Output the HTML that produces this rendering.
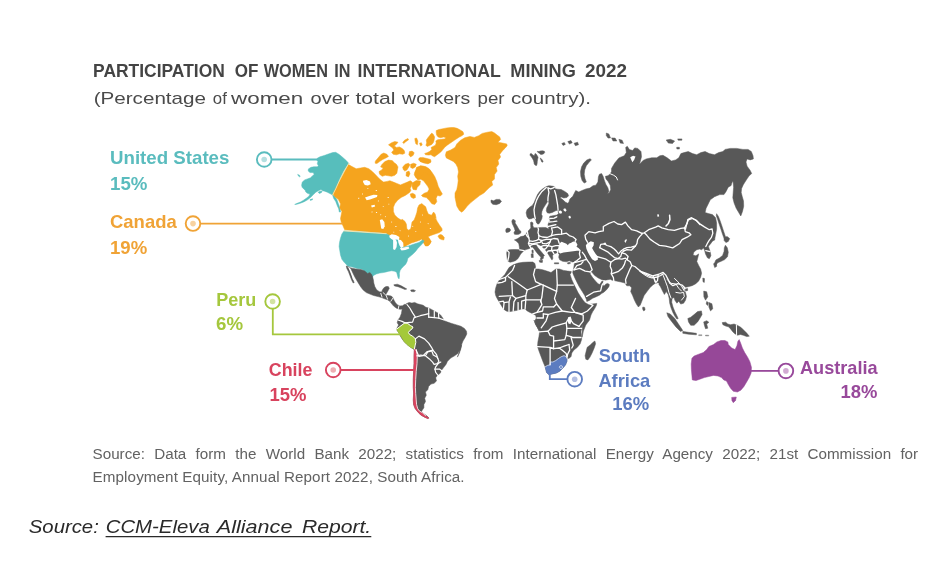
<!DOCTYPE html>
<html><head><meta charset="utf-8"><title>Participation of women in international mining 2022</title>
<style>
html,body{margin:0;padding:0;background:#fff;}
body{width:952px;height:571px;overflow:hidden;position:relative;font-family:"Liberation Sans",sans-serif;}
svg{position:absolute;left:0;top:0;display:block;filter:blur(0.45px)}
text{font-family:"Liberation Sans",sans-serif;}
.lbl{font-weight:700;font-size:17.8px;}
</style></head><body>
<svg width="952" height="571" viewBox="0 0 952 571">
<rect width="952" height="571" fill="#fff"/>
<g id="map" stroke-linejoin="round">
<path d="M348.8 163.4L346.2 160.5 342 156.8 338.9 154.2 335.7 152.3 332.6 152.6 328.4 154 324.2 155.5 320 156.8 317.3 158.2 316.8 160 317.9 161.6 317.3 163.7 318.4 165.8 317.3 166.8 313.7 166.8 311 167.3 308.4 168.9 308.2 171 310 172.6 313.1 172.6 314.2 174.2 312.1 176.3 310.5 177.8 307.4 178.9 304.7 179.9 302.3 182 301.6 185.2 302.1 187.3 303.7 188.9 305.3 190.4 305.8 192 307.9 193.6 310 194.1 308.9 196.2 306.3 198.3 303.2 200.4 300.5 202 296.6 203.6 294.7 204.4 296.8 204.3 301.1 202.9 304.2 201.7 307.9 199.6 311 197 313.7 194.3 315.8 192.2 318.4 190.7 321 189.6 322.6 190.7 324.7 191.2 327.3 192.2 329.9 193.6 332.6 195 335.7 188.9 339.9 179.4 344.1 171Z" fill="#57bebc" stroke="#57bebc" stroke-width="0.5"/>
<path d="M332.6 195L334.7 196.2 336.8 199.4 338.3 203.6 340.1 208.8 340.5 212 339.3 212 338.7 208.8 337.3 205.7 335.7 201.5 333.6 198.3Z" fill="#57bebc" stroke="#57bebc" stroke-width="0.5"/>
<path d="M297.7 174.4L299.5 175.2 300.2 176.5 299.4 176.8 298.1 175.6Z" fill="#57bebc" stroke="#57bebc" stroke-width="0.5"/>
<path d="M318.1 192.2L320 191.2 322.1 191.2 321.5 192.5 319.4 193.6Z" fill="#57bebc" stroke="#57bebc" stroke-width="0.5"/>
<path d="M310 199.6L312.6 198.8 312.4 199.8 310.3 200.4Z" fill="#57bebc" stroke="#57bebc" stroke-width="0.5"/>
<path d="M348.5 164.5L352 166.6 356.2 168.7 360.4 168 364.6 167.3 368.8 168.7 372.3 171.5 375.1 174.3 377.9 177.2 380.7 180 383.6 182.1 387.1 181.4 389.9 180.7 393.4 182.1 396.9 183.5 400.4 184.9 403.9 183.5 407.4 182.1 410.2 180.7 412.3 182.1 411.6 185.6 410.2 188.4 410.9 190.5 409.5 192.6 405.3 195.4 401.1 197.5 397.6 200.3 394.8 203.8 393.4 207.3 393.4 211.5 394.8 215 397.6 217.8 401.1 220.1 402.2 219.3 405 221.4 406.4 224.2 406.8 228.4 408.5 230.2 410.6 229.1 411.3 226.3 412 222.1 414.1 220 415.5 216.5 416.9 212.2 417.6 208 419 205 421.8 203.6 423.1 204.7 425.7 206.8 426.8 210.5 428.3 214.1 431.5 215.2 433.6 212 435.2 214.1 436.2 218.3 435.1 217.2 437.2 221.4 439.4 224.9 441.9 228.4 442.2 230.5 439.4 232.6 435.1 234 430.9 235.4 428.1 236.8 429.8 238.9 431.2 241.7 429.8 243.8 428.1 245.9 425.3 245.9 424.2 243.8 422.5 241.7 421.8 238.9 419.7 240.3 415.5 241.7 411.3 243.1 407.1 245.2 403.6 247.3 402.2 245.2 400.1 241.7 397.3 238.9 393.1 236.8 389.6 236.1 386.1 233.3 365 231.5 344.7 229.8 342.6 224.9 341.2 222.1 340.5 218.6 341.2 215 341.9 211.5 339.8 208 340.5 203.8 338.4 199.6 334.9 196.8 332.8 194Z" fill="#f5a41e" stroke="#f5a41e" stroke-width="0.5"/>
<path d="M437.9 236.1L440.1 234.4 442.2 235 444.3 237.5 443.8 240 441.5 239.6 439.4 238.6Z" fill="#f5a41e" stroke="#f5a41e" stroke-width="0.5"/>
<path d="M423.2 239.6L426.7 237.8 428.8 238.9 430.9 241.7 429.8 244.2 426.7 245.9 424.6 243.8Z" fill="#f5a41e" stroke="#f5a41e" stroke-width="0.5"/>
<path d="M410.2 194L412.7 193.3 415.2 194.7 415.5 197.5 413.4 198.5 411 197.1Z" fill="#f5a41e" stroke="#f5a41e" stroke-width="0.5"/>
<path d="M412.1 183.1L416.3 180.5 420.5 181 419.9 184.7 417.3 187.3 416.3 190 413.1 189.4 412.1 186.8Z" fill="#f5a41e" stroke="#f5a41e" stroke-width="0.5"/>
<path d="M416.5 167.3L420.7 165.9 425.6 166.6 429.1 168.7 431.9 172.2 434.7 176.5 436.8 181.4 438.2 186.3 440.3 190.5 442.4 194 440.3 196.1 437.5 195.4 436.1 198.2 436.8 201.7 434.7 204.5 431.9 203.8 429.1 200.3 426.3 197.5 422.8 196.8 421.4 195.4 424.2 193.3 427.7 191.9 429.1 189.1 427.7 186.3 425.6 183.5 423.5 180.7 420.7 179.3 417.9 180 415.8 177.2 415.1 172.9Z" fill="#f5a41e" stroke="#f5a41e" stroke-width="0.5"/>
<path d="M375.4 161.1L378 158 381.1 154.3 383.8 153 386.9 154.3 388.5 156.4 385.9 158 382.7 159.5 379.6 161.6 376.9 163.5 375.1 163.2Z" fill="#f5a41e" stroke="#f5a41e" stroke-width="0.5"/>
<path d="M381.7 164.8L384.8 161.6 388.5 160.1 392.2 160.6 394.3 162.7 396.4 164.3 398 166.9 397.4 170 396.9 173.2 394.8 175.3 391.6 176.3 388.5 175.8 385.3 175.3 382.2 176.3 379.6 174.2 379 171.6 381.7 170 383.2 167.9 380.6 166.9Z" fill="#f5a41e" stroke="#f5a41e" stroke-width="0.5"/>
<path d="M388.5 144.8L391.6 142.7 394.8 141.5 398 142.2 396.4 144.3 394.3 145.9 396.4 147.4 399.5 146.9 402.2 148.5 404.3 150.6 404.8 153.2 402.7 154.3 399.5 153.8 396.4 154.8 393.2 154.3 391.6 152.2 393.8 150.1 392.7 148 390.6 146.4Z" fill="#f5a41e" stroke="#f5a41e" stroke-width="0.5"/>
<path d="M402.7 142.2L404.8 140.1 407.9 138.5 408.6 139.8 405.8 141.7 403.7 143.6Z" fill="#f5a41e" stroke="#f5a41e" stroke-width="0.5"/>
<path d="M414.8 138.5L416.6 138 417.9 141.1 417.4 144.8 415.8 143.8 415.1 141.1Z" fill="#f5a41e" stroke="#f5a41e" stroke-width="0.5"/>
<path d="M419.5 143.2L421.4 142.7 422.2 145 420.6 146.1Z" fill="#f5a41e" stroke="#f5a41e" stroke-width="0.5"/>
<path d="M409.5 151.6L412.1 151.1 414.2 152.7 413.2 155.3 410.6 156.9 408.8 154.8Z" fill="#f5a41e" stroke="#f5a41e" stroke-width="0.5"/>
<path d="M419 158L422.7 157.4 426.9 158.5 430.5 159.5 431.1 161.6 428.4 163.2 424.8 162.7 421.1 161.6 418.7 160.1Z" fill="#f5a41e" stroke="#f5a41e" stroke-width="0.5"/>
<path d="M402.7 166.9L405.3 164.3 408.5 163.2 410 164.8 408.5 167.4 406.9 170 404.8 171.1 403.2 169.5Z" fill="#f5a41e" stroke="#f5a41e" stroke-width="0.5"/>
<path d="M410.6 164.3L413.7 163.2 416.3 164.3 415.3 166.9 412.7 168.5 410.6 167.4Z" fill="#f5a41e" stroke="#f5a41e" stroke-width="0.5"/>
<path d="M406.4 172.1L409 171.1 410 173.7 408.5 176.9 406 175.8Z" fill="#f5a41e" stroke="#f5a41e" stroke-width="0.5"/>
<path d="M414.8 172.1L417.4 167.9 420.6 165.8 423.7 166.4 426.9 168.5 430 170 431.1 173.2 429 175.3 426.9 173.2 424.8 172.1 422.7 174.2 420.6 176.3 418.5 178.5 415.8 177.4 414.2 174.8Z" fill="#f5a41e" stroke="#f5a41e" stroke-width="0.5"/>
<path d="M436.2 130.6L438.9 129.5 442.9 128.7 446.8 127.9 450.7 127.5 453.9 127.5 457.1 128.3 460.2 129.9 463 131.8 463.8 134.2 461.8 135.8 459.4 137 457.1 138.5 454.7 140.1 452.3 141.7 450 143.3 447.2 145.2 444.8 147.2 442.9 149.6 441.3 151.5 438.9 153.5 436.2 155.5 434.6 156.7 432.6 155.9 431 154.7 428.7 155.1 425.5 154.7 424.7 153.5 427.1 152.7 429.5 151.5 431.8 149.6 431 147.6 433 146.4 435.4 145.2 436.2 142.9 435.8 140.9 437.7 139.7 441.3 139.3 444.4 138.9 446 137.7 443.7 137 440.5 137.7 438.1 137 436.6 135 436.2 132.6Z" fill="#f5a41e" stroke="#f5a41e" stroke-width="0.5"/>
<path d="M431.8 133L433.4 134.6 434.6 137 434.2 139.7 433.4 142.5 431.8 144.4 429.5 145.6 427.1 146.4 425.9 145.2 426.7 142.9 426.3 140.1 427.9 137.7 429.5 135.8 430.6 134.2Z" fill="#f5a41e" stroke="#f5a41e" stroke-width="0.5"/>
<path d="M420 157.8L423.2 158.6 427.1 159.4 430.2 160.6 430.6 162.6 427.9 163.8 423.9 163 420 161.4Z" fill="#f5a41e" stroke="#f5a41e" stroke-width="0.5"/>
<path d="M446.3 151.8L450.7 150 455 147.4 456.8 143.9 460.3 140.4 464.7 137.8 469.9 136.4 474.3 137.4 478.7 135.7 482.2 133.4 487.4 132.2 491.8 131.6 494.5 132.9 497.1 135.1 499.7 136.9 500.6 139.5 498 142.2 502.3 143 506.7 143.9 507.2 145.7 505 148.3 502.3 150.9 499.7 154.4 500.6 157 498 160.6 498.8 164.1 496.2 167.6 497.1 171.1 494.5 174.6 494.5 178.9 491.8 181.6 492.7 185.1 489.2 187.7 486.6 190.3 483.9 193 479.6 195.6 475.2 199.1 470.8 202.6 467.3 206.1 463.8 210.5 461.7 212.2 459.4 210.5 456.8 206.1 455.9 201.7 455 197.3 455 193 456.8 189.5 457.7 185.1 458.2 180.7 457.7 176.3 458.5 171.9 457.7 167.6 455.9 164.1 453.3 161.4 449.8 159.7 446.3 157.9 445.4 155.3Z" fill="#f5a41e" stroke="#f5a41e" stroke-width="0.5"/>
<path d="M491 200L493.6 200.8 496.2 199.4 499.7 199.4 501.5 201.2 499.7 203.5 496.2 204.7 492.7 204.3 491 202.2Z" fill="#585858" stroke="#585858" stroke-width="0.5"/>
<path d="M344 230.9L365 232.3 386.1 233.7 390.3 235.7 394.5 236.5 398.7 238.9 400.8 242.4 402.2 245.9 402.9 247.3 406.4 246.6 410.6 245.2 414.8 243.8 419 242.4 421.1 241 422.8 239.9 424.2 241 422.5 243.6 419.7 246.6 417.6 248.7 415.5 251.5 412.7 254.3 409.9 256.5 407.8 258.6 407.1 261.4 405.7 264.2 403.6 266.3 401.5 268.4 400.1 270.5 399.4 273.3 399.5 276.1 399 278.9 398 277.5 397.3 274.7 396.6 272.2 394.5 271.2 391.7 270.8 388.9 271.2 386.1 271.9 383.3 272.6 379.8 273 376.3 274 373.5 275.4 372.1 277.8 371.4 276.1 370 274.7 368.6 273.3 367.2 274 365.7 272.6 363.6 270.5 361.5 269.1 357.3 268.4 352.4 267 347.5 266 346.1 264.2 344 262.1 341.9 259.3 340.5 255 339.8 250.8 339.1 246.6 339.5 242.4 340.5 238.2 341.9 234Z" fill="#57bebc" stroke="#57bebc" stroke-width="0.5"/>
<path d="M389.2 235.7L391.7 234.3 395.9 234.9 399.4 237.1 399 239.9 395.9 239.6 393.8 240.5 391.4 239.1 389.6 237.5Z" fill="#ffffff"/>
<path d="M393.1 239.9L395.9 239.6 397 242.4 396.6 246.9 395 250 393.1 249.2 393.1 244.5Z" fill="#ffffff"/>
<path d="M397.9 239.6L400.9 239.9 403.2 242.7 403.5 246.6 401.2 248.3 399.5 245.5 398.4 242.4Z" fill="#ffffff"/>
<path d="M399.8 248.3L403.6 247.5 408.5 246.6 409.3 248.6 405.4 250 401.5 250.6Z" fill="#ffffff"/>
<path d="M362.9 180.7L366.5 180 370 181.4 370.7 184.2 367.9 185.6 364.8 184.9 363.4 182.8Z" fill="#ffffff"/>
<path d="M365 197.5L369.3 196.1 373.5 194.7 377.4 195.1 377 197.1 373.5 198.2 370 199.6 366.7 200.3Z" fill="#ffffff"/>
<path d="M371.1 205.5L374.6 204.7 375.1 206.6 371.8 207.5Z" fill="#ffffff"/>
<path d="M379.8 220L382.2 219.3 384.4 222.1 384.7 226.3 383.3 229.1 381.2 228.4 380.5 224.2Z" fill="#ffffff"/>
<path d="M346.3 266.3L350.5 267.9 355.8 268.9 361 269.5 364.7 271 367.5 273.4 369.9 272.6 371.5 274.2 372.6 276.8 373.4 280 373.8 283.1 374.9 286.8 376.8 289.9 379.4 291.7 381.6 292.1 382.4 289.9 383.9 287.8 386 286.5 388.3 286.5 389.3 288.2 387.9 291 386.4 293.6 385.4 295.3 388.1 295.5 391.3 296 392.8 297.6 394 300.2 395.5 302.8 397.5 304.9 399.9 305.9 402.5 305.7 404.6 304.3 405.7 306.7 403 308.9 399.9 309.3 396.5 308.2 393.6 306.1 391.7 303.8 389.8 301.3 387.3 299.7 384.6 298.8 381.5 297.6 378.9 296.8 373.6 295.5 369.9 294.1 366.3 292.6 363.1 289.9 361 287.3 358.9 283.9 356.8 280.5 354.7 276.8 352.6 272.6 351 268.9 350 267.4Z" fill="#585858" stroke="#585858" stroke-width="0.5"/>
<path d="M346.3 266.3L348.4 267.9 350 271.6 351.6 275.8 353.1 280 354.2 282.6 353.1 282.9 351.6 280 350 275.8 348.4 271.6 346.8 268.4Z" fill="#585858" stroke="#585858" stroke-width="0.5"/>
<path d="M393.8 284.8L397.3 284.2 400.8 285.6 404.3 287.6 406.8 289 405 289.5 401.5 288.1 398 286.7 394.5 285.9Z" fill="#585858" stroke="#585858" stroke-width="0.5"/>
<path d="M410.6 290.1L413.4 289.7 415.5 290.7 414.1 291.8 411.3 291.5Z" fill="#585858" stroke="#585858" stroke-width="0.5"/>
<path d="M358 198.2L358.5 197.7 359.2 197.7 359.4 198.3 358.9 198.8 358.3 198.7Z" fill="#ffffff"/>
<path d="M362 194L362.3 193.6 362.9 193.6 363.1 194.1 362.7 194.5 362.2 194.4Z" fill="#ffffff"/>
<path d="M371.5 212L371.8 211.5 372.4 211.6 372.6 212 372.2 212.4 371.7 212.4Z" fill="#ffffff"/>
<path d="M375.8 212.5L376.3 212 377 212 377.2 212.6 376.8 213.1 376.1 213Z" fill="#ffffff"/>
<path d="M380.2 214.8L380.5 214.3 381.1 214.4 381.3 214.8 380.9 215.2 380.4 215.2Z" fill="#ffffff"/>
<path d="M387.5 197.5L387.9 197 388.6 197 388.9 197.6 388.4 198.1 387.8 198Z" fill="#ffffff"/>
<path d="M388.3 204.1L388.7 203.7 389.2 203.7 389.4 204.2 389 204.6 388.5 204.5Z" fill="#ffffff"/>
<path d="M391.1 222.1L391.5 221.6 392 221.7 392.2 222.1 391.9 222.5 391.3 222.5Z" fill="#ffffff"/>
<path d="M395.2 226.5L395.6 226 396.3 226.1 396.6 226.6 396.1 227.1 395.5 227Z" fill="#ffffff"/>
<path d="M399.5 230.8L399.9 230.3 400.4 230.4 400.7 230.8 400.3 231.2 399.8 231.1Z" fill="#ffffff"/>
<path d="M415.2 231.3L415.6 230.9 416.1 230.9 416.4 231.4 416 231.8 415.5 231.7Z" fill="#ffffff"/>
<path d="M419.9 222.1L420.2 221.6 420.8 221.7 421 222.1 420.6 222.5 420.1 222.5Z" fill="#ffffff"/>
<path d="M427.6 223.7L427.9 223.3 428.5 223.3 428.7 223.8 428.3 224.2 427.8 224.1Z" fill="#ffffff"/>
<path d="M429.7 228.5L430.1 227.9 430.8 228 431.1 228.6 430.6 229.1 430 229Z" fill="#ffffff"/>
<path d="M382.7 206.6L383 206.2 383.6 206.2 383.8 206.7 383.4 207.1 382.9 207Z" fill="#ffffff"/>
<path d="M377.8 201L378.1 200.6 378.7 200.6 378.9 201.1 378.5 201.5 378 201.4Z" fill="#ffffff"/>
<path d="M367.3 188.4L367.6 188 368.2 188 368.4 188.5 368 188.9 367.5 188.8Z" fill="#ffffff"/>
<path d="M375.6 190.5L376 190 376.7 190 377 190.6 376.5 191.1 375.8 191Z" fill="#ffffff"/>
<path d="M384.8 216.7L385.2 216.3 385.7 216.3 385.9 216.8 385.5 217.2 385 217.1Z" fill="#ffffff"/>
<path d="M393.2 232.2L393.6 231.7 394.1 231.8 394.3 232.2 394 232.6 393.5 232.5Z" fill="#ffffff"/>
<path d="M407.9 236.1L408.3 235.6 408.8 235.7 409.1 236.1 408.7 236.5 408.2 236.5Z" fill="#ffffff"/>
<path d="M412.2 226.3L412.5 225.8 413.1 225.9 413.3 226.3 412.9 226.7 412.4 226.7Z" fill="#ffffff"/>
<path d="M422 215L422.3 214.6 422.9 214.7 423.1 215.1 422.7 215.5 422.2 215.4Z" fill="#ffffff"/>
<path d="M403.5 305.9L406.3 303.8 409.1 302.4 411.9 303.1 414.7 302.4 417.5 303.8 420.3 304.5 423.1 305.2 425.9 307.3 428.7 308 431.5 309.4 435 311.5 437.8 312.9 440.6 315 442.7 317.9 444.1 320.7 447.6 322.1 451.8 323.5 456.7 324.9 460.9 326.3 464.4 328.4 466.5 331.2 466.8 334 465.1 337.5 463 341 461.6 344.5 460.9 348.7 459.5 352.9 457.4 357.1 461.7 344.7 460.1 349.5 457.8 353.4 454.6 355.8 450.7 358.1 447.5 361.3 446 364.4 443.6 367.6 441.2 370.7 440.4 373.1 437.3 375.5 435.7 377.8 436.5 381 434.1 383.3 431 384.1 428.6 386.5 427.8 389.7 425.5 392 426.3 395.2 424.7 398.3 425.5 401.5 423.9 404.6 423.9 407.8 422.3 410.1 421.5 411.7 423.9 413.8 427 416 428.9 417.9 427.8 418.5 424.7 417.2 420.7 414.9 417.6 411.7 415.2 408.6 413.6 404.6 413.3 399.9 413.6 393.6 413.3 387.3 413.3 379.4 413.6 371.5 414 363.6 414 355.8 414.4 348.7 414 349.4 410.5 347.3 407 344.5 404.2 341.7 402.1 338.9 400 335.4 398.6 332.6 396.7 329.8 397.2 327.7 398.6 324.9 397.2 322.8 397.9 320 400 317.2 401.4 313.6 402.1 309.4Z" fill="#585858" stroke="#585858" stroke-width="0.5"/>
<path d="M396.7 329.1L399.3 327 402.1 324.9 404.9 322.8 407.7 323.5 410.5 325.6 413 327 411.9 329.1 409.8 330.5 408.4 332.6 409.8 334.7 412.6 336.1 415.4 338.9 415.8 342.4 415 345.9 414.4 349 410.5 347.3 407 344.5 404.2 341.7 402.1 338.2 400 334.7 398.1 331.9Z" fill="#a4c93a" stroke="#a4c93a" stroke-width="0.5"/>
<path d="M414.4 348.7L416 349.5 417.1 355.8 416.8 363.6 416 371.5 415.5 379.4 415.2 387.3 415.5 393.6 416 399.9 416.5 404.6 417.6 408.6 419.2 410.9 422.3 412.8 425.5 415.7 427.8 417.2 428.8 418.3 427.5 418.5 424.7 417.2 420.7 414.9 417.6 411.7 415.2 408.6 413.6 404.6 413.3 399.9 413.6 393.6 413.3 387.3 413.3 379.4 413.6 371.5 414 363.6 414 355.8Z" fill="#d8435e" stroke="#d8435e" stroke-width="0.5"/>
<path d="M546.3 186.6L548.9 185.7 552 186.1 554.6 186.6 555 188.8 557.7 189.2 561.2 189.6 564.7 191.4 567.7 193.6 568.6 195.8 566.9 197.5 563.8 198 561.2 197.1 560.1 198 561.6 198.8 563.8 200.6 565.5 202.3 567.7 203.2 569 201.9 569.5 199.7 570.8 198 572.6 196.6 575.7 190.5 578.8 192 582 190.5 585.9 188.9 589.9 188.1 593 185.7 595.8 185.2 597.9 182 598.4 176.8 599.4 174.2 601.6 173.6 603.1 176.3 604.2 179.9 605.8 184.2 607.9 187.8 608.9 191.5 607.5 193.8 609.4 192.6 610.7 189.4 610.2 185.2 608.1 181.5 606 178.9 605.4 176.3 607.9 175.7 610 174.2 611.5 171.5 611.5 168.4 614.7 163.1 618.9 157.9 624.2 155.8 626.3 152.6 625.7 147.4 627.3 146.3 629.4 149.5 632.6 150.5 634.7 147.9 637.8 148.4 641 151.6 641.5 156.8 640.4 161 639.4 164.2 643.1 160.5 646.2 158.9 651.5 157.8 656.7 157.8 659.9 155.7 663 155.3 667.2 157.8 671.4 161 675.6 159.9 678.8 157.8 680.9 153.6 684.1 152.6 688.3 151.5 692.5 153.6 696.7 154.7 700.9 152.6 705.1 151.5 709.3 153.6 714.5 154.7 718.7 152.6 722.9 151.5 725 149.4 730.3 148.4 736.6 148.4 742.9 149.4 748.1 149.4 751.3 151.5 753 155.7 753.4 158.9 750.2 159.9 747.1 158.9 746 162 747.1 166.2 750.2 170.4 751.7 173.6 749.2 175.7 747.1 178.8 745 182 743.3 184.7 741.6 188.5 741.2 192.5 742.3 196.7 743.5 200.9 743.7 206.2 742.5 211.4 740.8 216 738.7 212.5 736.2 208.3 734.1 203 732.8 197.7 733.2 192.5 733.6 187.2 733 180.9 731.8 183 731.1 185.6 728.2 187.2 726.1 191.4 724 194.6 719.8 194.6 714.5 196.7 710.3 199.8 708.2 204.1 706.1 208.3 705.1 212.5 708.2 213.5 712.4 214.6 715.6 217.7 716.6 223 716.6 229.3 715.6 234.5 714.5 240 715.1 239.5 712.2 241.4 710.3 244.3 708.4 246.2 708.9 248.1 710.3 252 710.9 255.8 709.3 258.7 707.4 257.8 705.5 253.9 704.5 250.1 703.5 248.1 701.6 249.7 699.7 249.1 696.8 249.7 693.9 252 693 254.9 695.8 255.8 698.7 253.9 697.8 257.8 696.8 261.6 698.7 265.5 700.7 269.3 701.6 273.2 700.7 277 698.7 280.9 695.8 283.8 692 285.7 688.1 286.7 684.3 287.6 681.4 286.7 681.3 286.2 683.6 288.7 685.5 292.6 686.5 296.4 685.5 300.3 683.6 303.2 680.7 304.1 678.8 301.2 676.9 303.2 674.9 300.3 674 297.4 672.1 298.4 671.7 302.2 673 307 674.9 311.8 676.9 315.7 678.2 318.6 676.9 319 674.9 316.3 673 312.8 671.1 308 669.7 303.2 669.2 298.4 668.2 294.5 666.3 291.6 664.4 294.5 662.4 290.7 660.5 286.8 658.6 283.9 655.7 283 652.8 284.9 649.9 287.8 647 291.6 644.1 295.5 642.2 300.3 640.3 305.1 638.4 307 636.4 304.1 634.5 300.3 632.6 295.5 630.7 291.6 631.6 287.8 629.7 285.8 626.8 285.8 624.9 283 621 282 616.2 281 611.4 280.1 610.5 279.2 607.8 279.7 605.2 280.2 602 279.7 598.4 278.1 594.7 275.5 591.5 271.8 590 272.3 590.5 274.4 592.6 277.6 595.2 280.8 597.8 283.4 599.4 284.6 600.8 283 601.8 281.3 603.1 281.3 603.3 283.2 602.6 285.5 604.2 285.7 605.9 284 607.8 283.4 609.4 284.6 608.9 286.7 606.8 289.4 604.2 292 601.5 293.6 599.4 295.2 596.3 296.7 592.6 298.3 589.4 300.4 586.8 301.5 586.3 299.2 584.7 295.5 582.1 291.3 579.4 287.1 577.3 282.9 575.2 278.7 573.1 273.9 572.7 272.2 573.6 268.8 574.1 265.4 574.6 262.1 572.2 262.1 569.3 260.8 566.4 261.8 562.6 261.3 559.7 259.8 558.7 257.3 559.2 254.4 557.8 252.4 556.3 253.1 553.9 253.9 552.5 255.8 552.9 258.2 552 260.1 550.3 257.5 548.8 255 547 252.1 545.1 249.6 542.6 247.2 540 245.3 537.1 243.9 536.1 244.9 538 247.8 540.4 250.7 542.8 253.6 544.5 255.5 543.3 256.8 543.5 258.2 542.4 258.9 541.4 260.1 540.2 259.5 540.9 257.3 538.5 254.7 536.1 251.8 534.2 248.9 532.3 246.9 530.8 247.7 528.9 248.7 526 249.6 524.1 250.6 522.6 252.1 520.7 254 519.3 256.4 517.8 258.8 515.4 260.7 512.5 261.7 510.1 262.2 507.7 261.2 507.2 258.7 506.9 255.8 506.7 252.9 507.2 250.5 509.1 249.8 512.5 249.5 516.4 249.5 519.7 249.8 519.3 246.7 518.8 243.8 516.8 241.4 514.4 239.9 517.8 238.5 520.7 236.6 523.6 236.1 526 234.1 527.4 231.7 529.4 229.8 530.8 227.9 530.7 225.5 530.5 222.5 531.8 221.9 533 222.9 532.8 225.7 533.9 227.8 537.8 227.8 541.8 227.4 545.7 227.5 548.9 229 548.5 227.3 548 224.7 548.9 222 550.2 220.3 549.3 218.5 549.8 216.3 551.5 215.9 554.2 215.5 556.8 215 558.5 213.7 558.1 210.7 557.2 210.2 555 211.1 552.4 212.4 549.3 213.3 547.2 212.8 546.3 210.7 546.7 208 548 205.4 548.9 203.2 548.5 201 547.9 201 546.3 203.6 544.5 206.3 542.9 208.9 541.9 211.5 541.5 214.6 542.3 215.9 541.9 218.5 540.6 221.2 539.3 223.4 538 224.2 536.6 222.9 535.8 220.3 535.1 218.5 533.1 217.7 531.4 218.7 528.8 219 527 216.8 526.1 212.8 527 209.8 529.2 207.6 532.3 205.4 534 202.8 535.8 198.4 537.5 194.5 539.7 191.4 542.8 188.8Z" fill="#585858" stroke="#585858" stroke-width="0.5"/>
<path d="M630.2 157.3L633.1 155.8 635.5 156.6 634.1 160 632.4 162.3 631.3 160Z" fill="#ffffff"/>
<path d="M558.5 211.1L560.7 210.5 562.2 212 561.2 213.7 559.2 213.3Z" fill="#ffffff"/>
<path d="M563.4 208.9L565.1 208.2 566.6 210.2 565.5 211.7 563.8 210.8Z" fill="#ffffff"/>
<path d="M568.6 216.1L570.1 215.7 571 217.5 569.9 218.7 568.7 217.8Z" fill="#ffffff"/>
<path d="M558.7 245.7L559.7 243.3 561.6 241.8 564 242.8 566.4 243.8 567.9 245.2 568.8 243.8 571.2 242.8 573.2 241.4 576.1 242.3 577.5 244.7 576.5 246.7 578.5 248.1 580 249.5 580.4 250.8 577 250.8 575.1 251 571.2 251.5 567.4 252 563.5 252.4 560.2 253.4 558.5 252 558.2 249.1Z" fill="#ffffff"/>
<path d="M587.1 243.4L590.8 241.3 593.9 242.3 593.6 245.5 592.1 248.1 593.6 250.8 595.7 253.9 597.8 256.5 597.8 259.7 595 261 592.1 259.3 590 256.1 587.9 252.3 586.4 248.7 585.8 245.5Z" fill="#ffffff"/>
<path d="M603.7 242.9L605.4 242.4 606.2 243.8 605.1 244.9 603.8 244.3Z" fill="#ffffff"/>
<path d="M512.3 219.8L514 219.5 515.4 220.9 515.1 223 516.5 225.1 517.9 227.5 519.3 230 521 231.4 520.7 233.1 518.9 234.2 516.5 234.5 514.4 234.2 514 232.4 515.1 230.7 514.4 228.2 513.3 225.8 512.3 223.7 511.8 221.6Z" fill="#585858" stroke="#585858" stroke-width="0.5"/>
<path d="M506 228.9L507.7 228.1 509.8 228.6 510.6 230 509.8 231.4 508.1 232.3 506.3 232.5 505.7 231Z" fill="#585858" stroke="#585858" stroke-width="0.5"/>
<path d="M530 153.9L531.3 153.4 532.9 155 534.2 155.8 535.2 153.4 536.3 154.2 537.3 155.8 538.1 157.3 537.6 159.4 537.3 161.6 537.1 163.7 536.6 165.5 535.2 165.2 534.2 163.9 533.9 162.1 533.4 160.2 532.4 158.4 531.3 156.8 530.2 155.5Z" fill="#585858" stroke="#585858" stroke-width="0.5"/>
<path d="M537.3 151.3L538.9 151.6 540.5 150.9 542.6 150.8 544.4 151.3 544.7 152.6 543.7 153.8 541.8 154.5 540.2 154.2 539.2 153.1 537.9 152.4Z" fill="#585858" stroke="#585858" stroke-width="0.5"/>
<path d="M540.2 158.1L541 158.4 542.1 159.7 543.1 161.3 542.6 162.3 541.6 161.8 541 160.2Z" fill="#585858" stroke="#585858" stroke-width="0.5"/>
<path d="M590 158.7L591.4 159.8 588.9 162.6 586.3 165.8 584.7 170 584.2 174.2 585 178.4 586.3 182 584.2 183.1 582.1 180.5 580.8 176.3 580.5 171.5 581.6 166.8 583.7 163.1 586.8 160Z" fill="#585858" stroke="#585858" stroke-width="0.5"/>
<path d="M561.8 143.5L564.3 142.5 565.3 144.4 563.1 145.4Z" fill="#585858" stroke="#585858" stroke-width="0.5"/>
<path d="M567.8 141.6L571 140.6 572.2 142.8 569.4 144.1Z" fill="#585858" stroke="#585858" stroke-width="0.5"/>
<path d="M574.1 143.2L577.6 142.2 578.5 144.7 575.4 145.7Z" fill="#585858" stroke="#585858" stroke-width="0.5"/>
<path d="M606.3 133L608.8 133.9 610.5 137.9 608 138.1 606.3 135.5Z" fill="#585858" stroke="#585858" stroke-width="0.5"/>
<path d="M611.6 137.9L615.1 138.1 616.8 141 613 141Z" fill="#585858" stroke="#585858" stroke-width="0.5"/>
<path d="M618.9 139.3L622.1 140.2 623.5 143.5 620.2 143.1Z" fill="#585858" stroke="#585858" stroke-width="0.5"/>
<path d="M666.2 140L670.4 139.3 674.6 141 672.5 143.5 668.3 143.1Z" fill="#585858" stroke="#585858" stroke-width="0.5"/>
<path d="M677.7 138.9L681.9 138.9 681.9 140.2 678.2 140.2Z" fill="#585858" stroke="#585858" stroke-width="0.5"/>
<path d="M676.7 147.3L679.4 147.3 679.4 149 676.9 149Z" fill="#585858" stroke="#585858" stroke-width="0.5"/>
<path d="M716.6 213.7L718.4 216.4 720.1 220.7 721.9 226 723.6 231.2 725.4 236.5 726.2 240 724.5 239.6 722.7 234.7 721 229.5 719.2 224.2 717.5 219 716.3 215.8Z" fill="#585858" stroke="#585858" stroke-width="0.5"/>
<path d="M724.5 237.3L727.1 236.5 729.7 238.6 728.3 241.4 725.9 242.6 724 240.3Z" fill="#585858" stroke="#585858" stroke-width="0.5"/>
<path d="M725.4 245.2L727.3 247.8 728.3 252.2 727.5 256.8 724.7 259.6 721.2 261.3 717.7 262.7 715.6 265.7 714.2 263.8 715.9 259.9 719.4 258 722.6 255.4 724.1 251.3 724.3 247.8Z" fill="#585858" stroke="#585858" stroke-width="0.5"/>
<path d="M713.6 263.8L716.1 263.2 716.8 266.2 714.7 267.6Z" fill="#585858" stroke="#585858" stroke-width="0.5"/>
<path d="M702.8 278L704.5 278.6 704.3 282.4 703 281.8Z" fill="#585858" stroke="#585858" stroke-width="0.5"/>
<path d="M685.3 289L687.6 288.6 687.6 290.5 685.6 290.9Z" fill="#585858" stroke="#585858" stroke-width="0.5"/>
<path d="M642.8 307L644.7 307.4 645.1 309.9 643.6 310.9 642.6 309Z" fill="#585858" stroke="#585858" stroke-width="0.5"/>
<path d="M666.8 312.8L670.2 313.9 674.8 318.5 679.3 325.3 682.8 330.5 680.5 331.4 675.9 326.9 671.4 321.2 668 316.6Z" fill="#585858" stroke="#585858" stroke-width="0.5"/>
<path d="M697.6 311.6L701.4 310.9 702.1 314.6 699.8 318.5 697.6 321.9 694.1 325.3 690.7 325.3 688.5 321.9 687.8 318.5 690.7 317.3 694.1 314.6Z" fill="#585858" stroke="#585858" stroke-width="0.5"/>
<path d="M682.8 331.4L688.5 332.3 696.4 333.3 696.4 334.8 688.5 334.2 682.8 333.3Z" fill="#585858" stroke="#585858" stroke-width="0.5"/>
<path d="M703.7 321.9L706.7 320.7 708.9 322.3 706.7 324.1 707.8 328.2 705.5 328.7 704.4 325.3Z" fill="#585858" stroke="#585858" stroke-width="0.5"/>
<path d="M698.7 334.8L701.9 334.8 701.9 335.6 698.7 335.6Z" fill="#8a8a8a" stroke="#8a8a8a" stroke-width="0.5"/>
<path d="M705.5 335.1L708.7 335.2 708.7 336 705.5 335.9Z" fill="#8a8a8a" stroke="#8a8a8a" stroke-width="0.5"/>
<path d="M722.2 322.6L725.7 322.2 727.8 324 730.6 324.7 734.1 324 737.6 325.4 741.1 327.5 743.9 330.3 746.7 333.1 749.3 336.2 746.7 336.6 743.2 335.2 740.4 334.5 737.6 335.2 734.8 333.8 732.7 331.7 730.6 328.9 728.5 326.8 725.7 326.1 722.9 324.7Z" fill="#585858" stroke="#585858" stroke-width="0.5"/>
<path d="M703.7 291.1L706.7 291.8 707.8 296.8 705.5 300.2 703.9 296.8Z" fill="#585858" stroke="#585858" stroke-width="0.5"/>
<path d="M708.9 302.5L711.9 303.7 712.8 308.7 710.5 310.9 708.9 307.1Z" fill="#585858" stroke="#585858" stroke-width="0.5"/>
<path d="M706.7 301.4L708.3 302.5 707.8 305.5 706.2 304.1Z" fill="#585858" stroke="#585858" stroke-width="0.5"/>
<path d="M594.9 341L595.6 343.8 594.2 348 592.1 352.9 590 357.1 587.9 359.9 585.8 359.2 585.1 355.7 586.1 351.5 587.2 347.3 590 345.2 592.8 342.4Z" fill="#585858" stroke="#585858" stroke-width="0.5"/>
<path d="M539.1 260.6L542.6 260.3 542.3 262.5 539.7 262.2Z" fill="#585858" stroke="#585858" stroke-width="0.5"/>
<path d="M531.2 253.9L533.1 253.5 533.3 257.5 531.4 257.5Z" fill="#585858" stroke="#585858" stroke-width="0.5"/>
<path d="M531.9 250.2L533.1 249.9 533.3 252.8 532 252.8Z" fill="#585858" stroke="#585858" stroke-width="0.5"/>
<path d="M554.4 262.8L558.7 262.8 558.7 263.8 554.4 263.8Z" fill="#585858" stroke="#585858" stroke-width="0.5"/>
<path d="M567.5 262.8L570.2 262.2 570.3 263.5 567.8 264Z" fill="#585858" stroke="#585858" stroke-width="0.5"/>
<path d="M509 267.6L513.2 264.8 518.1 263.1 523 262.3 528.6 262 532.8 262 534.9 263.4 535.6 266.9 534.9 269 538.4 269 542.6 269.7 546.8 271.1 551 272.5 553.8 270.4 555.9 269 559.4 269 563.6 270.4 567.8 271.1 571.3 271.5 571 272.9 570 274.4 571.6 279.2 573.7 283.9 575.8 288.1 577.9 292.3 580.5 296.5 583.1 300.2 585.2 302.8 588.4 304.4 592.6 303.9 596.8 303.4 596.3 305.5 594.7 308.6 592.6 311.8 591 315 589.5 320.1 585.8 325 583.4 331.1 582.1 337.2 582.3 324.2 581.6 328.4 580.9 331.9 581.6 335.4 581.6 339.6 580.2 343.8 577.4 347.3 573.9 350.1 571.8 352.9 571.1 356.4 569 358.5 566.9 357.8 566.9 361.3 565.5 364.8 562.7 368.3 559.9 371.1 556.4 372.9 552.2 373.9 548.7 374.6 546.6 372.5 545.2 366.9 543.1 362 541 356.4 538.9 350.8 537.5 346.6 537.9 341.7 538.9 336.8 539.6 331.9 537.5 327.7 535.4 324.2 534 320 541.2 335 539.8 331.3 537.7 327.8 535.6 324.3 534.9 320.8 536.3 318 535.6 315.2 532.8 313.8 530 312.4 527.2 311 525.1 308.9 521.6 308.9 517.4 310.3 513.2 311 509 311.7 506.2 311 503.4 308.9 501.3 305.4 499.2 301.9 497.1 298.4 495.7 295.6 495 292.1 495.7 287.9 497.1 283.7 499.2 280.2 502 277.4 504.8 274.6 506.9 271.1Z" fill="#585858" stroke="#585858" stroke-width="0.5"/>
<path d="M545.2 366.9L547.3 365.5 550.1 364.8 550.5 362 552.9 362 555.7 360.6 558.5 358.5 561.3 356.7 564.1 355.7 566.2 356.7 566.9 359.2 566.9 361.3 565.5 364.8 562.7 368.3 559.9 371.1 556.4 372.9 552.2 373.9 548.7 374.6 546.6 372.5Z" fill="#5c7cc0" stroke="#5c7cc0" stroke-width="0.5"/>
<path d="M691.9 358.3L694.1 356 698.7 354.2 703.3 352.6 706.7 349.6 708.9 346.5 713.5 344.6 716.9 341.9 721 340.5 724.9 340.5 727.8 341.9 728.3 344.6 731.7 348 735.1 349.6 736.9 345.8 737.9 341.2 739.2 339.6 740.8 343.5 742.4 348 744.7 352.6 747.6 357.2 749.9 361.7 751.5 367.4 751.1 373.1 749.2 377.6 746.5 382.2 743.8 386.7 740.8 390.2 737.4 392 733.3 391.3 730.6 388.3 728.3 384.5 726.5 381.1 723.7 379.9 721.5 377.6 718 376 713.5 375.4 708.9 376.5 704.4 377.6 699.8 379.2 696 380.6 692.3 379.9 691.9 375.4 691.4 369.7 691.2 364Z" fill="#964898" stroke="#964898" stroke-width="0.5"/>
<path d="M731.7 397.4L736.3 397 735.6 400.4 733.3 402.7 731.9 400.4Z" fill="#964898" stroke="#964898" stroke-width="0.5"/>
<path d="M657.1 214.5L658.7 214.2 659.2 216.2 657.7 216.9Z" fill="#ffffff"/>
<path d="M624.4 241L626.1 239.1 626.9 240.1 625.4 242.9Z" fill="#ffffff"/>
<path d="M568.1 317.3L570.6 316.6 571.8 320.1 570.4 324.3 568.4 323.6 567.5 320.1Z" fill="#ffffff"/>
<path d="M559.8 366.1L561.2 365.5 562.4 366.2 562.6 367.8 561.4 368.7 560 368.3 559.3 367.3Z" fill="#e8ecf7" stroke="#e8ecf7" stroke-width="0.5"/>
<path d="M560.3 366.6L561.2 366.2 561.9 366.7 561.9 367.6 561.2 368.1 560.4 367.8 560 367.2Z" fill="#5c7cc0" stroke="#5c7cc0" stroke-width="0.5"/>
<path d="M344 230.9L365 232.3 386.1 233.7" fill="none" stroke="#f7e7b0" stroke-width="0.9" stroke-linecap="round"/>
<path d="M348.8 163.4L344.1 171 339.9 179.4 335.7 188.9 332.6 195" fill="none" stroke="#f7e7b0" stroke-width="0.9" stroke-linecap="round"/>
<path d="M348.9 267.4L350.5 271 352.1 275.2 353.4 279.4" fill="none" stroke="#ffffff" stroke-width="0.9" stroke-linecap="round"/>
<path d="M407 304.5L409.8 308 412.6 312.9 415.4 317.2" fill="none" stroke="#ffffff" stroke-width="1.2" stroke-linecap="round"/>
<path d="M397.9 320L402.1 321.4 404.9 322.8" fill="none" stroke="#ffffff" stroke-width="1.2" stroke-linecap="round"/>
<path d="M404.9 322.8L412.6 322.1 414 317.9 415.4 317.2 420.3 315.7 425.9 314.3 428.7 313.6" fill="none" stroke="#ffffff" stroke-width="1.2" stroke-linecap="round"/>
<path d="M428.7 308L428.7 317.2" fill="none" stroke="#ffffff" stroke-width="1.2" stroke-linecap="round"/>
<path d="M434.3 311.1L434.3 317.6" fill="none" stroke="#ffffff" stroke-width="1.2" stroke-linecap="round"/>
<path d="M438.5 313.4L438.8 318.1" fill="none" stroke="#ffffff" stroke-width="1.2" stroke-linecap="round"/>
<path d="M428.7 317.2L434.3 317.6 438.8 318.1 444.1 320" fill="none" stroke="#ffffff" stroke-width="1.2" stroke-linecap="round"/>
<path d="M415.4 338.9L418.9 336.1 424.5 338.9 428.7 343.1 431.5 347.3 432.9 350.1 427.3 351.5 423.1 355.7 418.9 356.4 416.1 350.1" fill="none" stroke="#ffffff" stroke-width="1.2" stroke-linecap="round"/>
<path d="M432.9 350.1L436.4 354.3 437.8 358.5" fill="none" stroke="#ffffff" stroke-width="1.2" stroke-linecap="round"/>
<path d="M416.8 355.8L420.7 355 425.5 355.8 427.8 351.8 431.8 351 433.3 355 437.3 357.3 438.9 361.3 437.3 363.6 434.1 364.4 432.6 362.1 429.4 358.9 426.3 356.6" fill="none" stroke="#ffffff" stroke-width="1.2" stroke-linecap="round"/>
<path d="M438.1 363.6L440.8 362.1" fill="none" stroke="#ffffff" stroke-width="1.2" stroke-linecap="round"/>
<path d="M438.1 363.6L435.7 366.8 434.9 369.2 435.7 372.3 438.1 375.5" fill="none" stroke="#ffffff" stroke-width="1.2" stroke-linecap="round"/>
<path d="M434.9 369.2L439.7 369.2 442.8 371.5" fill="none" stroke="#ffffff" stroke-width="1.2" stroke-linecap="round"/>
<path d="M380.8 293.4L382 297" fill="none" stroke="#ffffff" stroke-width="0.9" stroke-linecap="round"/>
<path d="M386.2 295.5L387.5 299.1" fill="none" stroke="#ffffff" stroke-width="0.9" stroke-linecap="round"/>
<path d="M393 298L390.9 301.2" fill="none" stroke="#ffffff" stroke-width="0.9" stroke-linecap="round"/>
<path d="M398.8 306L398.4 308.5" fill="none" stroke="#ffffff" stroke-width="0.9" stroke-linecap="round"/>
<path d="M383.1 292.6L385.4 294.7" fill="none" stroke="#ffffff" stroke-width="0.9" stroke-linecap="round"/>
<path d="M396.7 329.1L399.3 327 402.1 324.9 404.9 322.8 407.7 323.5 410.5 325.6 413 327 411.9 329.1 409.8 330.5 408.4 332.6 409.8 334.7 412.6 336.1 415.4 338.9 415.8 342.4 415 345.9 414.4 349" fill="none" stroke="#ffffff" stroke-width="1.0" stroke-linecap="round"/>
<path d="M416.2 349.5L417.3 355.8 417 363.6 416.2 371.5 415.7 379.4 415.4 387.3 415.7 393.6 416.2 399.9 416.6 404.6 417.7 408.6 419.3 410.9 422.5 412.8 425.6 415.7" fill="none" stroke="#ffffff" stroke-width="0.8" stroke-linecap="round"/>
<path d="M610.5 173.9L613.6 175.2 616.3 177 617.5 179.9" fill="none" stroke="#ffffff" stroke-width="1.0" stroke-linecap="round"/>
<path d="M736.4 325L736.6 334.8" fill="none" stroke="#ffffff" stroke-width="1.0" stroke-linecap="round"/>
<path d="M586.6 259.3L590.1 264.2 592.2 269.8 590.1 271.9" fill="none" stroke="#ffffff" stroke-width="1.3" stroke-linecap="round"/>
<path d="M573.3 262.8L579.6 261.4 586.6 259.3" fill="none" stroke="#ffffff" stroke-width="1.3" stroke-linecap="round"/>
<path d="M582.4 252.3L584.5 255.1 586.6 259.3" fill="none" stroke="#ffffff" stroke-width="1.3" stroke-linecap="round"/>
<path d="M574 269.8L579.6 268.4 585.2 271.2 590.1 271.9" fill="none" stroke="#ffffff" stroke-width="1.3" stroke-linecap="round"/>
<path d="M574 269.8L576.8 265.6 581 264.2 583.1 261.7" fill="none" stroke="#ffffff" stroke-width="1.3" stroke-linecap="round"/>
<path d="M586.6 296.4L593.6 292.2 600.6 290.8 602 285.2 604.8 281" fill="none" stroke="#ffffff" stroke-width="1.3" stroke-linecap="round"/>
<path d="M587.6 242.3L585.7 239.1 585 235.3 588.8 231.6 595.1 232.8 598.9 231.6 603.3 230.9 603.3 226.5 609 223.4 614 221.5 617.8 224 621.6 224.6 625.4 222.1 627.9 225.9 631.7 229.7 636.7 230.9 641.8 233.4" fill="none" stroke="#ffffff" stroke-width="1.3" stroke-linecap="round"/>
<path d="M644.3 232.8L648.7 229.7 655.6 227.1 658.2 225.9 661.9 227.8 668.2 229.7 674.5 230.3 680.8 228.4 684.6 227.8 685.3 231.6 689 232.8 690.9 234.7 687.1 237.2 682.1 239.7 679.6 243.5 672.7 247.9 665.7 246.1 659.4 245.4 654.4 242.3 650 239.1 646.8 235.3 644.3 232.8 641.8 233.4" fill="none" stroke="#ffffff" stroke-width="1.3" stroke-linecap="round"/>
<path d="M684.6 227.8L687.1 223.4 687.8 219.6 691.6 217.7 696 220.2 700 224.6" fill="none" stroke="#ffffff" stroke-width="1.3" stroke-linecap="round"/>
<path d="M669.6 215.2L669.9 219.6 668.4 223.4 666 226" fill="none" stroke="#ffffff" stroke-width="1.5" stroke-linecap="round"/>
<path d="M685.5 229L686.9 223.4 688.3 219.9 692.5 218.5 696.7 220.6 700.2 224.1 704.4 226.9 709.3 229.7 712.1 229 712.8 233.2 711.4 237.4 709.3 240.2 707.2 243.7 705.8 246.5" fill="none" stroke="#ffffff" stroke-width="1.3" stroke-linecap="round"/>
<path d="M705.8 250.7L710 251.7" fill="none" stroke="#ffffff" stroke-width="1.3" stroke-linecap="round"/>
<path d="M640 271L645.6 273.1 652.6 275.9 658.2 274.5 663.1 272.4 665.9 275.2 668 279.4 670.1 283.6 672.9 285.7 677.8 283.6 682 285 684.8 287.8" fill="none" stroke="#ffffff" stroke-width="1.3" stroke-linecap="round"/>
<path d="M653.3 276.6L655.4 282.2 657.5 280.8 658.2 274.5" fill="none" stroke="#ffffff" stroke-width="1.3" stroke-linecap="round"/>
<path d="M519.7 249.8L524.1 250.6" fill="none" stroke="#ffffff" stroke-width="1.3" stroke-linecap="round"/>
<path d="M526 234.1L527.4 236.6 528.9 238 529.4 240.9 528.4 243.3 529.4 245.7 530.8 247.7" fill="none" stroke="#ffffff" stroke-width="1.3" stroke-linecap="round"/>
<path d="M527.4 231.7L527.9 234.6 528.9 238" fill="none" stroke="#ffffff" stroke-width="1.3" stroke-linecap="round"/>
<path d="M529.4 240.9L532.7 241.4 536.6 240.4 538.5 239.4" fill="none" stroke="#ffffff" stroke-width="1.3" stroke-linecap="round"/>
<path d="M538.5 239.4L539 235.6 538 232.7 538.5 229.3 538 227.9" fill="none" stroke="#ffffff" stroke-width="1.3" stroke-linecap="round"/>
<path d="M551.5 227.9L552.5 231.7 551.5 235.6" fill="none" stroke="#ffffff" stroke-width="1.3" stroke-linecap="round"/>
<path d="M538.5 235.6L542.4 237 547.2 237.5 551.5 235.6" fill="none" stroke="#ffffff" stroke-width="1.3" stroke-linecap="round"/>
<path d="M529.4 243.3L532.7 243.8 536.6 242.8 540.4 242.3 541.4 240.4 538.5 239.4" fill="none" stroke="#ffffff" stroke-width="1.3" stroke-linecap="round"/>
<path d="M529.8 245.7L532.7 244.3 537.1 244" fill="none" stroke="#ffffff" stroke-width="1.3" stroke-linecap="round"/>
<path d="M541.4 240.4L542.4 243.3 546.2 243.8 550.1 241.8 551 239.4 546.2 239.4 542.4 240.4" fill="none" stroke="#ffffff" stroke-width="1.3" stroke-linecap="round"/>
<path d="M551 239.4L553.9 238.5 557.8 239 559.2 243.3" fill="none" stroke="#ffffff" stroke-width="1.3" stroke-linecap="round"/>
<path d="M550.1 241.8L548.1 245.7 552 246.7 555.8 245.7 558.7 245.7" fill="none" stroke="#ffffff" stroke-width="1.3" stroke-linecap="round"/>
<path d="M551.5 235.6L555.8 234.6 561.6 234.1 566.4 233.2 569.3 235.6 573.2 237 576.1 239.4 575.1 241.4" fill="none" stroke="#ffffff" stroke-width="1.3" stroke-linecap="round"/>
<path d="M552.5 227.9L557.8 226.9 561.6 229.8 561.6 234.1" fill="none" stroke="#ffffff" stroke-width="1.3" stroke-linecap="round"/>
<path d="M540.4 246.9L543.3 245.7 548.1 245.7" fill="none" stroke="#ffffff" stroke-width="1.3" stroke-linecap="round"/>
<path d="M543.3 249.7L545.7 248.6 548.1 245.7" fill="none" stroke="#ffffff" stroke-width="1.3" stroke-linecap="round"/>
<path d="M546.2 253.1L548.1 251 552 250.5 553.9 253.9" fill="none" stroke="#ffffff" stroke-width="1.3" stroke-linecap="round"/>
<path d="M552 246.7L551.5 250.5" fill="none" stroke="#ffffff" stroke-width="1.3" stroke-linecap="round"/>
<path d="M552 250.5L557.8 250 558.5 249.1" fill="none" stroke="#ffffff" stroke-width="1.3" stroke-linecap="round"/>
<path d="M557.8 252.4L556.8 250.5 557.8 250" fill="none" stroke="#ffffff" stroke-width="1.3" stroke-linecap="round"/>
<path d="M574.6 262.1L577 260.6 580.4 257.7 579.4 253.9 580 250.5" fill="none" stroke="#ffffff" stroke-width="1.3" stroke-linecap="round"/>
<path d="M507.2 250.5L509.1 252.4 508.7 256.8 507.7 261.2" fill="none" stroke="#ffffff" stroke-width="1.3" stroke-linecap="round"/>
<path d="M546.3 187.4L541.9 191.4 538.8 195.8 536.6 200.1 534.9 205.4 534 209.8 534.5 215 535.3 218.5" fill="none" stroke="#ffffff" stroke-width="1.3" stroke-linecap="round"/>
<path d="M548 187.9L548.9 192.3 548 197.5 547.9 200.8" fill="none" stroke="#ffffff" stroke-width="1.3" stroke-linecap="round"/>
<path d="M548 187.9L550.7 188.8 553.3 187.9 554.6 187" fill="none" stroke="#ffffff" stroke-width="1.3" stroke-linecap="round"/>
<path d="M554.6 190.5L555.9 194.9 556.8 200.1 557.7 205.4 558.1 210.2" fill="none" stroke="#ffffff" stroke-width="1.3" stroke-linecap="round"/>
<path d="M549.8 218.5L554.2 218.1 556.8 216.8" fill="none" stroke="#ffffff" stroke-width="1.3" stroke-linecap="round"/>
<path d="M548.9 222L553.3 221.6 556.8 221.2" fill="none" stroke="#ffffff" stroke-width="1.3" stroke-linecap="round"/>
<path d="M548.5 226.4L552.4 225.5 555.9 224.7" fill="none" stroke="#ffffff" stroke-width="1.3" stroke-linecap="round"/>
<path d="M514.6 265.5L512.5 270.4 508.3 274.6 505.5 277.4 499.2 279.5" fill="none" stroke="#ffffff" stroke-width="1.3" stroke-linecap="round"/>
<path d="M505.5 277.4L505.5 280.9 502 282.3 497.8 283" fill="none" stroke="#ffffff" stroke-width="1.3" stroke-linecap="round"/>
<path d="M508.3 276.7L517.4 283 527.2 290" fill="none" stroke="#ffffff" stroke-width="1.3" stroke-linecap="round"/>
<path d="M511.8 281.6L512.5 295.6 499.2 296.3" fill="none" stroke="#ffffff" stroke-width="1.3" stroke-linecap="round"/>
<path d="M527.2 290L525.8 295.6 516 298.4 512.5 295.6" fill="none" stroke="#ffffff" stroke-width="1.3" stroke-linecap="round"/>
<path d="M534.9 269L533.5 274.6 535.6 281.6 541.2 284.4 527.2 290" fill="none" stroke="#ffffff" stroke-width="1.3" stroke-linecap="round"/>
<path d="M556.6 269.7L557.3 285.1 573.4 285.1" fill="none" stroke="#ffffff" stroke-width="1.3" stroke-linecap="round"/>
<path d="M541.2 284.4L543.3 285.1 556.6 291.4 557.3 285.1" fill="none" stroke="#ffffff" stroke-width="1.3" stroke-linecap="round"/>
<path d="M543.3 285.1L541.9 297 540.5 301.9" fill="none" stroke="#ffffff" stroke-width="1.3" stroke-linecap="round"/>
<path d="M556.6 291.4L554.5 298.4 556.6 304 553.8 306.8" fill="none" stroke="#ffffff" stroke-width="1.3" stroke-linecap="round"/>
<path d="M525.8 295.6L525.8 299.8 540.5 299.8 541.9 304.7 537 312.4 532.8 313.8" fill="none" stroke="#ffffff" stroke-width="1.3" stroke-linecap="round"/>
<path d="M525.8 299.8L525.1 308.9" fill="none" stroke="#ffffff" stroke-width="1.3" stroke-linecap="round"/>
<path d="M575.5 298.4L571.3 307.5 574.8 312.4 581.8 313.8" fill="none" stroke="#ffffff" stroke-width="1.3" stroke-linecap="round"/>
<path d="M556.6 304L562.2 311 571.3 312.4 574.8 312.4" fill="none" stroke="#ffffff" stroke-width="1.3" stroke-linecap="round"/>
<path d="M581.8 313.8L587.4 311 593 305.4 588.8 303.3" fill="none" stroke="#ffffff" stroke-width="1.3" stroke-linecap="round"/>
<path d="M574.8 312.4L583.2 315.2 583.2 320.8 579 326.4" fill="none" stroke="#ffffff" stroke-width="1.3" stroke-linecap="round"/>
<path d="M537 312.4L542.6 311 543.3 306.8 553.8 306.8" fill="none" stroke="#ffffff" stroke-width="1.3" stroke-linecap="round"/>
<path d="M543.3 313.8L548.2 314.5 555.2 312.4 562.2 311" fill="none" stroke="#ffffff" stroke-width="1.3" stroke-linecap="round"/>
<path d="M537 318L543.3 318 543.3 313.8" fill="none" stroke="#ffffff" stroke-width="1.3" stroke-linecap="round"/>
<path d="M548.2 314.5L546.1 320.8 541.2 327.8" fill="none" stroke="#ffffff" stroke-width="1.3" stroke-linecap="round"/>
<path d="M579 326.4L573.4 323.6 571.3 320.8" fill="none" stroke="#ffffff" stroke-width="1.3" stroke-linecap="round"/>
<path d="M503.4 308.9L504.1 302.6 509 301.9 510.4 297" fill="none" stroke="#ffffff" stroke-width="1.3" stroke-linecap="round"/>
<path d="M509 311.7L509 302.6" fill="none" stroke="#ffffff" stroke-width="1.3" stroke-linecap="round"/>
<path d="M513.2 311L513.9 301.9 516 298.4" fill="none" stroke="#ffffff" stroke-width="1.3" stroke-linecap="round"/>
<path d="M518.1 310.3L518.1 302.6" fill="none" stroke="#ffffff" stroke-width="1.3" stroke-linecap="round"/>
<path d="M521.6 308.9L521.6 301.2 525.8 299.8" fill="none" stroke="#ffffff" stroke-width="1.3" stroke-linecap="round"/>
<path d="M499.2 301.9L503.4 301.2 504.1 302.6" fill="none" stroke="#ffffff" stroke-width="1.3" stroke-linecap="round"/>
<path d="M550.1 348L550.1 364.8" fill="none" stroke="#ffffff" stroke-width="1.3" stroke-linecap="round"/>
<path d="M550.1 348L553.6 348.7 559.2 348 562 350.1 566.2 353.6 566.9 356.7" fill="none" stroke="#ffffff" stroke-width="1.3" stroke-linecap="round"/>
<path d="M537.5 346.6L550.1 347.3 553.6 348.7" fill="none" stroke="#ffffff" stroke-width="1.3" stroke-linecap="round"/>
<path d="M553.6 348.7L553.6 341 559.2 340.3" fill="none" stroke="#ffffff" stroke-width="1.3" stroke-linecap="round"/>
<path d="M538.9 331.9L548 331.2 550.1 335.4 553.6 336.1 553.6 341" fill="none" stroke="#ffffff" stroke-width="1.3" stroke-linecap="round"/>
<path d="M559.2 348L564.8 345.9 569 344.5" fill="none" stroke="#ffffff" stroke-width="1.3" stroke-linecap="round"/>
<path d="M569 344.5L569.7 350.1 567.6 354.3 566.9 357.8" fill="none" stroke="#ffffff" stroke-width="1.3" stroke-linecap="round"/>
<path d="M559.2 340.3L564.8 339.6 566.2 335.4 571.8 336.8" fill="none" stroke="#ffffff" stroke-width="1.3" stroke-linecap="round"/>
<path d="M571.8 337.5L580.9 337.5" fill="none" stroke="#ffffff" stroke-width="1.3" stroke-linecap="round"/>
<path d="M571.1 337.5L573.2 345.2 571.8 348" fill="none" stroke="#ffffff" stroke-width="1.3" stroke-linecap="round"/>
<path d="M566.2 335.4L566.9 328.4 566.2 322.8 567.6 320" fill="none" stroke="#ffffff" stroke-width="1.3" stroke-linecap="round"/>
<path d="M566.9 328.4L581.6 328.4" fill="none" stroke="#ffffff" stroke-width="1.3" stroke-linecap="round"/>
<path d="M548 331.2L552.2 327 556.4 325.6 566.2 322.8" fill="none" stroke="#ffffff" stroke-width="1.3" stroke-linecap="round"/>
<path d="M545.2 366.9L547.3 365.5 550.1 364.8 550.5 362 552.9 362 555.7 360.6 558.5 358.5 561.3 356.7 564.1 355.7 566.2 356.7" fill="none" stroke="#e8ecf7" stroke-width="0.7" stroke-linecap="round"/>
<path d="M663.3 275.6L665.4 281.2 667.5 286.8 668.9 292.4 671 298" fill="none" stroke="#ffffff" stroke-width="1.0" stroke-linecap="round"/>
<path d="M667.5 279.8L671 283.3 675.9 284 678.7 288.2 681.5 291" fill="none" stroke="#ffffff" stroke-width="1.0" stroke-linecap="round"/>
<path d="M674.5 278.4L678 281.9 681.5 286.1 684.3 291" fill="none" stroke="#ffffff" stroke-width="1.0" stroke-linecap="round"/>
<path d="M675.9 292.4L680.1 293.1 683.6 292.4 684.3 296.6 681.5 300.1" fill="none" stroke="#ffffff" stroke-width="1.0" stroke-linecap="round"/>
<path d="M642.3 233.9L639.7 236.6 637.6 239.7 637 243.4 635.5 246 631.3 247.1 627 247.6 623.4 249.2 620.7 251.3 618.6 253.9 616.5 251.3 613.9 248.7 610.8 246.6 607.1 245.5 604.4 243.9 600.8 244.4 599.7 247.6" fill="none" stroke="#ffffff" stroke-width="1.3" stroke-linecap="round"/>
<path d="M599.7 247.6L603.4 249.7 607.6 251.8 611.3 255 614.4 257.6 618.1 258.6 620.7 256.5 621.8 252.9 623.9 250.8" fill="none" stroke="#ffffff" stroke-width="1.3" stroke-linecap="round"/>
<path d="M596.6 256.5L600.8 257.6 606 259.2 610.8 262.3 614.4 259.7 618.1 258.6" fill="none" stroke="#ffffff" stroke-width="1.3" stroke-linecap="round"/>
<path d="M610.8 262.3L610.2 266.5 611.8 270.2 611.3 273.9 613.4 277.6 613.9 281.8" fill="none" stroke="#ffffff" stroke-width="1.3" stroke-linecap="round"/>
<path d="M618.1 258.6L621.8 259.2 625.5 258.1 627 259.7" fill="none" stroke="#ffffff" stroke-width="1.3" stroke-linecap="round"/>
<path d="M625.5 260.7L624.4 264.4 622.3 268.1 618.6 271.3 614.4 272.8 611.3 273.9" fill="none" stroke="#ffffff" stroke-width="1.3" stroke-linecap="round"/>
<path d="M627 259.7L630.2 261.8 631.8 265.5 630.2 268.6 628.6 272.3 627 276 625.5 279.7 626 283.3" fill="none" stroke="#ffffff" stroke-width="1.3" stroke-linecap="round"/>
<path d="M631.8 265.5L634.9 266.5 638.1 269.2 641.8 272.3 646 274.4 650.2 276.5 653.3 277.6 657.5 277 660.7 275.5 663.3 273.9" fill="none" stroke="#ffffff" stroke-width="1.3" stroke-linecap="round"/>
<path d="M639.7 271.3L643.9 274.4 648.1 277 652.3 278.1" fill="none" stroke="#ffffff" stroke-width="1.0" stroke-linecap="round"/>
<path d="M654.4 278.6L655.4 282.3 658.6 283.9" fill="none" stroke="#ffffff" stroke-width="1.0" stroke-linecap="round"/>
<path d="M623.9 250.8L627 249.7 631.3 250.2 635.5 246" fill="none" stroke="#ffffff" stroke-width="1.3" stroke-linecap="round"/>
<path d="M621.8 252.9L625.5 253.9 628.1 256.5 627 259.7" fill="none" stroke="#ffffff" stroke-width="1.3" stroke-linecap="round"/>
</g>
<g id="markers" fill="none" stroke-width="1.8">
 <g stroke="#5abcbe"><path d="M271.5 159.5H322"/><circle cx="264.2" cy="159.5" r="7.3" fill="#fff" stroke-width="1.9"/><circle cx="264.2" cy="159.5" r="2.8" fill="#b5dfe0" stroke="none"/></g>
 <g stroke="#f0a336"><path d="M200.3 223.6H343"/><circle cx="193" cy="223.6" r="7.3" fill="#fff" stroke-width="1.9"/><circle cx="193" cy="223.6" r="2.8" fill="#f8d2a0" stroke="none"/></g>
 <g stroke="#a5c73d"><path d="M272.8 308.8V334.4H402"/><circle cx="272.6" cy="301.5" r="7.3" fill="#fff" stroke-width="1.9"/><circle cx="272.6" cy="301.5" r="2.8" fill="#d2e3a0" stroke="none"/></g>
 <g stroke="#d8435e"><path d="M340.5 370H415"/><circle cx="333.2" cy="370" r="7.3" fill="#fff" stroke-width="1.9"/><circle cx="333.2" cy="370" r="2.8" fill="#eeaeb2" stroke="none"/></g>
 <g stroke="#5c7cc0"><path d="M567.4 379.2H549.8V373.5"/><circle cx="574.7" cy="379.2" r="7.3" fill="#fff" stroke-width="1.9"/><circle cx="574.7" cy="379.2" r="2.8" fill="#b4bfe2" stroke="none"/></g>
 <g stroke="#98499b"><path d="M750.5 370.9H778.6"/><circle cx="785.9" cy="370.9" r="7.3" fill="#fff" stroke-width="1.9"/><circle cx="785.9" cy="370.9" r="2.8" fill="#d2aad3" stroke="none"/></g>
</g>
<g id="title">
 <text y="77.4" font-size="17.6" font-weight="700" fill="#444444"><tspan x="93.1" textLength="131.7" lengthAdjust="spacingAndGlyphs">PARTICIPATION</tspan> <tspan x="234.8" textLength="23.6" lengthAdjust="spacingAndGlyphs">OF</tspan> <tspan x="263.7" textLength="64.2" lengthAdjust="spacingAndGlyphs">WOMEN</tspan> <tspan x="334.3" textLength="16.2" lengthAdjust="spacingAndGlyphs">IN</tspan> <tspan x="357.6" textLength="142.9" lengthAdjust="spacingAndGlyphs">INTERNATIONAL</tspan> <tspan x="510.3" textLength="65.5" lengthAdjust="spacingAndGlyphs">MINING</tspan> <tspan x="585.1" textLength="42.0" lengthAdjust="spacingAndGlyphs">2022</tspan></text>
 <text y="103.7" font-size="17" fill="#4a4a4a"><tspan x="93.7" textLength="112.3" lengthAdjust="spacingAndGlyphs">(Percentage</tspan> <tspan x="212.8" textLength="14.0" lengthAdjust="spacingAndGlyphs">of</tspan> <tspan x="231.0" textLength="72.2" lengthAdjust="spacingAndGlyphs">women</tspan> <tspan x="310.5" textLength="39.0" lengthAdjust="spacingAndGlyphs">over</tspan> <tspan x="355.4" textLength="40.0" lengthAdjust="spacingAndGlyphs">total</tspan> <tspan x="402.1" textLength="68.1" lengthAdjust="spacingAndGlyphs">workers</tspan> <tspan x="477.6" textLength="27.0" lengthAdjust="spacingAndGlyphs">per</tspan> <tspan x="511.1" textLength="79.9" lengthAdjust="spacingAndGlyphs">country).</tspan></text>
</g>
<g id="labels" class="lbl">
 <g fill="#5abcbe"><text x="110" y="164.3" textLength="119.4" lengthAdjust="spacingAndGlyphs">United States</text><text x="110" y="189.7" textLength="37.4" lengthAdjust="spacingAndGlyphs">15%</text></g>
 <g fill="#f0a336"><text x="110" y="228.3" textLength="66.7" lengthAdjust="spacingAndGlyphs">Canada</text><text x="110" y="253.5" textLength="37.2" lengthAdjust="spacingAndGlyphs">19%</text></g>
 <g fill="#a5c73d"><text x="216.2" y="305.8" textLength="40" lengthAdjust="spacingAndGlyphs">Peru</text><text x="216" y="330.2" textLength="27" lengthAdjust="spacingAndGlyphs">6%</text></g>
 <g fill="#d8435e"><text x="268.8" y="375.8" textLength="43.6" lengthAdjust="spacingAndGlyphs">Chile</text><text x="269.5" y="401.3" textLength="37" lengthAdjust="spacingAndGlyphs">15%</text></g>
 <g fill="#5c7cc0"><text x="598.7" y="362.4" textLength="51.6" lengthAdjust="spacingAndGlyphs">South</text><text x="598.4" y="386.7" textLength="51.9" lengthAdjust="spacingAndGlyphs">Africa</text><text x="612.3" y="410.2" textLength="37" lengthAdjust="spacingAndGlyphs">16%</text></g>
 <g fill="#98499b"><text x="800" y="373.9" textLength="77.6" lengthAdjust="spacingAndGlyphs">Australia</text><text x="840.4" y="398.3" textLength="36.9" lengthAdjust="spacingAndGlyphs">18%</text></g>
</g>
<g id="src" font-size="15.2" fill="#626262">
 <text x="92.6" y="458.8" word-spacing="5.08">Source: Data form the World Bank 2022; statistics from International Energy Agency 2022; 21st Commission for</text>
 <text x="92.6" y="482" textLength="372" lengthAdjust="spacing">Employment Equity, Annual Report 2022, South Africa.</text>
</g>
<g id="foot" font-size="18.4" font-style="italic" fill="#2a2a2a">
 <text y="533.4"><tspan x="28.8" textLength="70.0" lengthAdjust="spacingAndGlyphs">Source:</tspan> <tspan x="105.7" textLength="104.1" lengthAdjust="spacingAndGlyphs">CCM-Eleva</tspan> <tspan x="216.8" textLength="75.6" lengthAdjust="spacingAndGlyphs">Alliance</tspan> <tspan x="301.9" textLength="69.3" lengthAdjust="spacingAndGlyphs">Report.</tspan></text>
 <path d="M105.6 536.6H371.3" stroke="#2a2a2a" stroke-width="1.2" fill="none"/>
</g>
</svg>
</body></html>
